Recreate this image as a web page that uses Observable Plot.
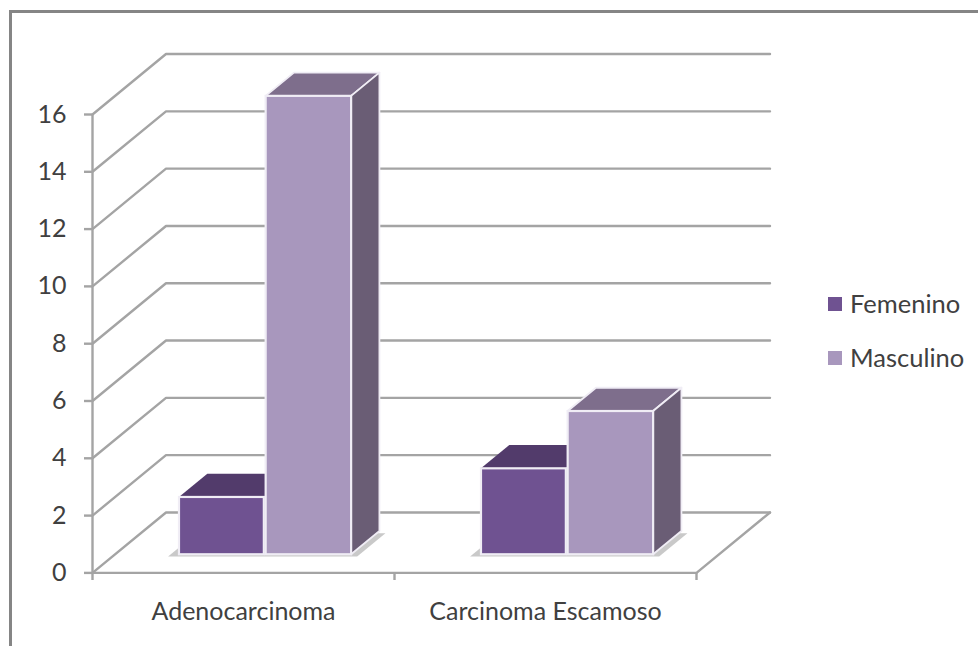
<!DOCTYPE html>
<html lang="es">
<head>
<meta charset="utf-8">
<script src="https://cdn.jsdelivr.net/npm/d3@7"></script>
<script src="https://cdn.jsdelivr.net/npm/@observablehq/plot@0.6"></script>
<style>
  html, body { margin: 0; background: #fff; }
  #chart { position: relative; width: 978px; height: 646px; overflow: hidden; font-family: Lato, sans-serif; }
  #chart svg { position: absolute; left: 0; top: 0; }
  #frame { position: absolute; left: 9px; top: 10px; width: 980px; height: 650px;
           border-left: 3px solid #858585; border-top: 3px solid #858585; }
  .key { position: absolute; left: 828px; display: flex; align-items: center; gap: 8px;
         font-size: 25.5px; color: #404040; line-height: 1; white-space: nowrap; }
  .key i { display: block; width: 14px; height: 14px; }
</style>
</head>
<body>
<div id="chart"><div id="frame"></div></div>
<script>
// Casos por tipo histológico y sexo
const categories = ["Adenocarcinoma", "Carcinoma Escamoso"];
const series = ["Femenino", "Masculino"];
const femenino = [2, 3];
const masculino = [16, 5];
const yTicks = [0, 2, 4, 6, 8, 10, 12, 14, 16];

const frontColors = ["#6f5291", "#a897bd"];
const topColors = ["#523b6b", "#7e6e8c"];
const sideColors = ["#523b6b", "#6a5d75"];
const edge = "#f0edf5";
const gridColor = "#a4a4a4";

// Oblique projection: depth 0 is the front of the floor, depth 1 the back wall.
const depthX = 0.2434; // category units per unit of depth
const depthY = 2.11;   // value units per unit of depth
const barNear = 0.3, barFar = 0.685, barWidth = 0.285;
const project = (x, v, z) => ({x: x + z * depthX, y: v + z * depthY});

// A flat quadrilateral is an area between two projected edges.
function face(a, b, c, d, options) {
  return Plot.area([[a, d], [b, c]], {
    x1: (e) => e[0].x, y1: (e) => e[0].y,
    x2: (e) => e[1].x, y2: (e) => e[1].y,
    ...options
  });
}

const marks = [];

// Back wall gridlines with their diagonal returns to the value axis
for (const v of yTicks) {
  marks.push(Plot.line([project(0, v, 0), project(0, v, 1), project(2, v, 1)],
    {x: "x", y: "y", stroke: gridColor, strokeWidth: 2.4}));
}
// Front and right edges of the floor, and the value axis
marks.push(Plot.line([project(0, 0, 0), project(2, 0, 0), project(2, 0, 1)],
  {x: "x", y: "y", stroke: gridColor, strokeWidth: 2.4}));
marks.push(Plot.ruleX([0], {y1: 0, y2: 16, stroke: gridColor, strokeWidth: 2.4}));

categories.forEach((name, i) => {
  const mid = i + 0.5;
  const left = mid - barWidth, right = mid + barWidth;

  // Soft shadow on the floor beneath the pair of bars
  marks.push(face(
    project(left - 0.036, -0.08, barNear), project(right + 0.02, -0.08, barNear),
    project(right + 0.02, -0.08, barFar), project(left - 0.036, -0.08, barFar),
    {fill: "#c9c9c9"}));

  [femenino[i], masculino[i]].forEach((value, s) => {
    const x0 = s === 0 ? left : mid + 0.002;
    const x1 = s === 0 ? mid - 0.004 : right;

    // Top face
    marks.push(face(
      project(x0, value, barNear), project(x1, value, barNear),
      project(x1, value, barFar), project(x0, value, barFar),
      {fill: topColors[s], stroke: s === 1 ? edge : "none", strokeWidth: 1.8}));
    // Right-hand face
    marks.push(face(
      project(x1, 0, barNear), project(x1, value, barNear),
      project(x1, value, barFar), project(x1, 0, barFar),
      {fill: sideColors[s], stroke: s === 1 ? edge : "none", strokeWidth: 1.8}));
    // Front face
    const a = project(x0, 0, barNear), b = project(x1, value, barNear);
    marks.push(Plot.rect([series[s]], {
      x1: () => a.x, x2: () => b.x, y1: () => a.y, y2: () => b.y,
      fill: (d) => d, stroke: edge, strokeWidth: 2.2
    }));
  });
});

const chart = Plot.plot({
  width: 978,
  height: 646,
  marginLeft: 92,
  marginRight: 282,
  marginTop: 114,
  marginBottom: 74,
  style: {fontFamily: "Lato, sans-serif", background: "transparent", overflow: "visible"},
  x: {domain: [0, 2], range: [92, 696]},
  y: {domain: [0, 16], range: [572.4, 114]},
  color: {type: "ordinal", domain: series, range: frontColors},
  marks: [
    ...marks,
    Plot.axisY({ticks: yTicks, tickSize: 8, tickPadding: 18, tickFormat: "d", label: null,
      fontSize: 25, stroke: gridColor, fill: "#404040", strokeWidth: 2.4}),
    Plot.axisX({ticks: [0, 1, 2], tickSize: 8, tickFormat: () => "", label: null,
      stroke: gridColor, strokeWidth: 2.4}),
    Plot.axisX({ticks: [0.5, 1.5], tickSize: 0, tickPadding: 30, label: null,
      tickFormat: (d) => categories[d - 0.5], fontSize: 25, fill: "#404040"})
  ]
});
document.getElementById("chart").appendChild(chart);

// Key to the right of the plot
series.forEach((name, s) => {
  const row = document.createElement("div");
  row.className = "key";
  row.style.top = (291 + s * 54) + "px";
  const swatch = document.createElement("i");
  swatch.style.background = frontColors[s];
  row.append(swatch, name);
  document.getElementById("chart").appendChild(row);
});
</script>
</body>
</html>
